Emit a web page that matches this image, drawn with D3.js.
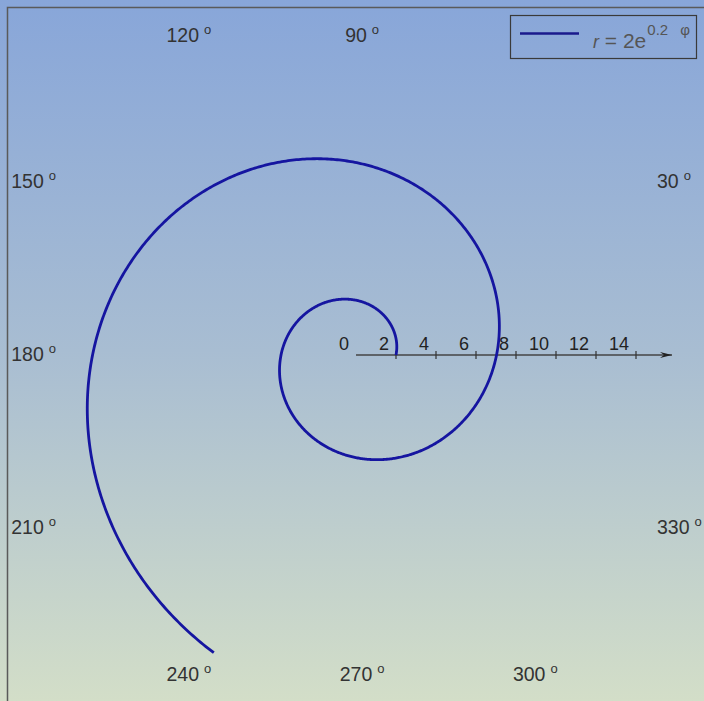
<!DOCTYPE html>
<html>
<head>
<meta charset="utf-8">
<script src="https://cdn.jsdelivr.net/npm/d3@7"></script>
<style>
  html, body { margin: 0; padding: 0; background: #fff; }
  svg { display: block; }
  text { font-family: "Liberation Sans", Arial, sans-serif; }
</style>
</head>
<body>
<svg id="chart" width="704" height="701"></svg>
<script>
// Logarithmic spiral r = a·e^(b·φ), coefficients as printed in the legend
const spiralCoef = [2, 0.2];            // a, b
const phiRange = [0, 10.55];            // radians swept by the curve
const radialTicks = [0, 2, 4, 6, 8, 10, 12, 14];
const radialDomain = [0, 15];
const angleLabels = [30, 90, 120, 150, 180, 210, 240, 270, 300, 330];
const legendLabel = ["r", " = 2e", "0.2", "\u03c6"];

const W = 704, H = 701;
const cx = 356, cy = 355, R = 300;      // plot square half-size

const svg = d3.select("#chart");
const defs = svg.append("defs");

const grad = defs.append("linearGradient")
  .attr("id", "bg").attr("x1", 0).attr("y1", 0).attr("x2", 0).attr("y2", 1);
grad.append("stop").attr("offset", "0%").attr("stop-color", "#88a6d9");
grad.append("stop").attr("offset", "50%").attr("stop-color", "#a8bdd2");
grad.append("stop").attr("offset", "100%").attr("stop-color", "#d3dec8");

svg.append("rect").attr("width", W).attr("height", H).attr("fill", "url(#bg)");

// outer frame (left and top edges are visible)
svg.append("path")
  .attr("d", `M7.5,${H + 2}V7.5H${W + 2}`)
  .attr("fill", "none").attr("stroke", "#5a5a5a").attr("stroke-width", 1.5);

const r = d3.scaleLinear().domain(radialDomain).range([0, R]);

// radial axis along 0°
defs.append("marker")
  .attr("id", "arrow").attr("viewBox", "0 0 12 8")
  .attr("refX", 12).attr("refY", 4)
  .attr("markerWidth", 12).attr("markerHeight", 8)
  .attr("markerUnits", "userSpaceOnUse").attr("orient", "auto")
  .append("path").attr("d", "M0,1L12,4L0,7L4,4Z").attr("fill", "#222");

const axisG = svg.append("g").attr("transform", `translate(${cx},${cy})`);
axisG.append("line")
  .attr("x1", 0).attr("y1", 0).attr("x2", r(15.8)).attr("y2", 0)
  .attr("stroke", "#444").attr("stroke-width", 1.3)
  .attr("marker-end", "url(#arrow)");

axisG.selectAll("line.tick")
  .data(radialTicks.filter(d => d > 0))
  .join("line").attr("class", "tick")
  .attr("x1", d => r(d)).attr("x2", d => r(d))
  .attr("y1", -4).attr("y2", 4)
  .attr("stroke", "#333").attr("stroke-width", 1.2);

axisG.selectAll("text.tl")
  .data(radialTicks)
  .join("text").attr("class", "tl")
  .attr("x", d => r(d) - 7).attr("y", -5)
  .attr("text-anchor", "end")
  .attr("font-size", 18).attr("fill", "#222")
  .text(d => d);

// angle labels placed just outside the plot square
function squarePoint(deg) {
  const t = deg * Math.PI / 180;
  const c = Math.cos(t), s = Math.sin(t);
  const k = R / Math.max(Math.abs(c), Math.abs(s));
  return [cx + c * k, cy - s * k, Math.abs(s) >= Math.abs(c) - 1e-9 ? (s > 0 ? "top" : "bottom") : (c > 0 ? "right" : "left")];
}

const angG = svg.append("g");
angleLabels.forEach(deg => {
  const [px, py, side] = squarePoint(deg);
  const t = angG.append("text").attr("font-size", 19.5).attr("fill", "#333");
  const num = t.append("tspan").text(deg);
  t.append("tspan").attr("dx", 5).attr("dy", -8).attr("font-size", 13).text("o");
  const numLen = num.node().getComputedTextLength();
  const fullLen = t.node().getComputedTextLength() + 5;
  let x, y;
  if (side === "top") { x = px - numLen / 2; y = py - 13; }
  else if (side === "bottom") { x = px - numLen / 2; y = py + 26; }
  else if (side === "left") { x = px - fullLen; y = py + 6; }
  else { x = px + 1; y = py + 6; }
  t.attr("x", x).attr("y", y);
});

// spiral
const [a, b] = spiralCoef;
const phis = d3.range(phiRange[0], phiRange[1], 0.01).concat([phiRange[1]]);
const radial = d3.lineRadial()
  .angle(phi => Math.PI / 2 - phi)
  .radius(phi => r(a * Math.exp(b * phi)))
  .curve(d3.curveLinear);

svg.append("path")
  .attr("transform", `translate(${cx},${cy})`)
  .attr("d", radial(phis))
  .attr("fill", "none")
  .attr("stroke", "#1515a0")
  .attr("stroke-width", 2.8)
  .attr("stroke-linejoin", "round");

// legend
const lg = svg.append("g");
lg.append("rect")
  .attr("x", 510.5).attr("y", 15.5).attr("width", 186).attr("height", 43)
  .attr("fill", "none").attr("stroke", "#3a3a3a").attr("stroke-width", 1.2);
lg.append("line")
  .attr("x1", 520).attr("x2", 579).attr("y1", 33.5).attr("y2", 33.5)
  .attr("stroke", "#1a1a8c").attr("stroke-width", 2.6);
const lt = lg.append("text").attr("x", 593).attr("y", 48).attr("fill", "#555");
lt.append("tspan").attr("font-size", 18).attr("font-style", "italic").text(legendLabel[0]);
lt.append("tspan").attr("font-size", 21).text(legendLabel[1]);
lt.append("tspan").attr("font-size", 15).attr("dy", -13).attr("dx", 1).text(legendLabel[2]);
lt.append("tspan").attr("font-size", 15).attr("dx", 12).text(legendLabel[3]);
</script>
</body>
</html>
